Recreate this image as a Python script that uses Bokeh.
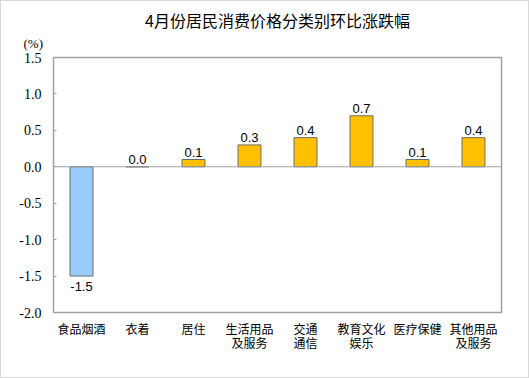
from bokeh.plotting import figure
from bokeh.models import ColumnDataSource, FixedTicker, Range1d, Span, Title
from bokeh.core.properties import value
from bokeh.embed import file_html
from bokeh.resources import INLINE

categories = ["食品烟酒", "衣着", "居住", "生活用品\n及服务", "交通\n通信", "教育文化\n娱乐", "医疗保健", "其他用品\n及服务"]
values = [-1.5, 0.0, 0.1, 0.3, 0.4, 0.7, 0.1, 0.4]
value_labels = ["-1.5", "0.0", "0.1", "0.3", "0.4", "0.7", "0.1", "0.4"]
y_ticks = [-2.0, -1.5, -1.0, -0.5, 0.0, 0.5, 1.0, 1.5]
title_text = "4月份居民消费价格分类别环比涨跌幅"
unit_text = "(%)"

colors = ["#99CCFF" if v < 0 else "#FFC000" for v in values]
src = ColumnDataSource(dict(x=categories, top=values, color=colors))

p = figure(width=529, height=378, x_range=categories, y_range=Range1d(-2.0, 1.5),
           output_backend="svg", toolbar_location=None,
           min_border_left=52, min_border_right=29, min_border_top=56, min_border_bottom=67)

p.vbar(x="x", top="top", bottom=0, width=0.41, fill_color="color",
       line_color="#6b6b6b", line_width=1, source=src)

pos = ColumnDataSource(dict(x=[c for c, v in zip(categories, values) if v >= 0],
                            y=[v for v in values if v >= 0],
                            t=[l for l, v in zip(value_labels, values) if v >= 0]))
neg = ColumnDataSource(dict(x=[c for c, v in zip(categories, values) if v < 0],
                            y=[v for v in values if v < 0],
                            t=[l for l, v in zip(value_labels, values) if v < 0]))
p.text(x="x", y="y", text="t", source=pos, text_align="center", text_baseline="bottom",
       y_offset=-3, text_font=value("Liberation Sans"), text_font_size="13px", text_color="#000000")
p.text(x="x", y="y", text="t", source=neg, text_align="center", text_baseline="top",
       y_offset=6, text_font=value("Liberation Sans"), text_font_size="13px", text_color="#000000")

p.add_layout(Span(location=0, dimension="width", line_color="#a0a0a0", line_width=1))

p.xgrid.visible = False
p.ygrid.visible = False
p.outline_line_color = "#a0a0a0"
p.outline_line_width = 1.5

p.yaxis.ticker = FixedTicker(ticks=y_ticks)
p.yaxis.major_label_overrides = {t: f"{t:.1f}" for t in y_ticks}
p.yaxis.major_label_text_font = "Liberation Serif"
p.yaxis.major_label_text_font_size = "14px"
p.yaxis.major_label_text_color = "#000000"
p.yaxis.axis_line_color = "#a0a0a0"
p.yaxis.major_tick_line_color = "#a0a0a0"
p.yaxis.major_tick_in = 3
p.yaxis.major_tick_out = 0
p.yaxis.minor_tick_line_color = None
p.yaxis.major_label_standoff = 12

p.xaxis.axis_line_color = None
p.xaxis.major_tick_line_color = None
p.xaxis.major_tick_in = 0
p.xaxis.major_tick_out = 0
p.xaxis.minor_tick_line_color = None
p.xaxis.major_label_text_font = "Noto Sans CJK SC"
p.xaxis.major_label_text_font_size = "12px"
p.xaxis.major_label_text_line_height = 0.84
p.xaxis.major_label_text_color = "#000000"
p.xaxis.major_label_standoff = 7

p.add_layout(Title(text=unit_text, align="left", offset=-30, text_font="Liberation Serif",
                   text_font_size="13px", text_font_style="normal", text_color="#000000",
                   vertical_align="top", standoff=9), "above")
p.add_layout(Title(text=title_text, align="center", offset=-16, text_font="Noto Sans CJK SC",
                   text_font_size="16px", text_font_style="normal", text_color="#000000",
                   standoff=0), "above")

p.styles = {"border": "1px solid #d9d9d9", "box-sizing": "border-box"}

open("out.html", "w").write(file_html(p, INLINE))
